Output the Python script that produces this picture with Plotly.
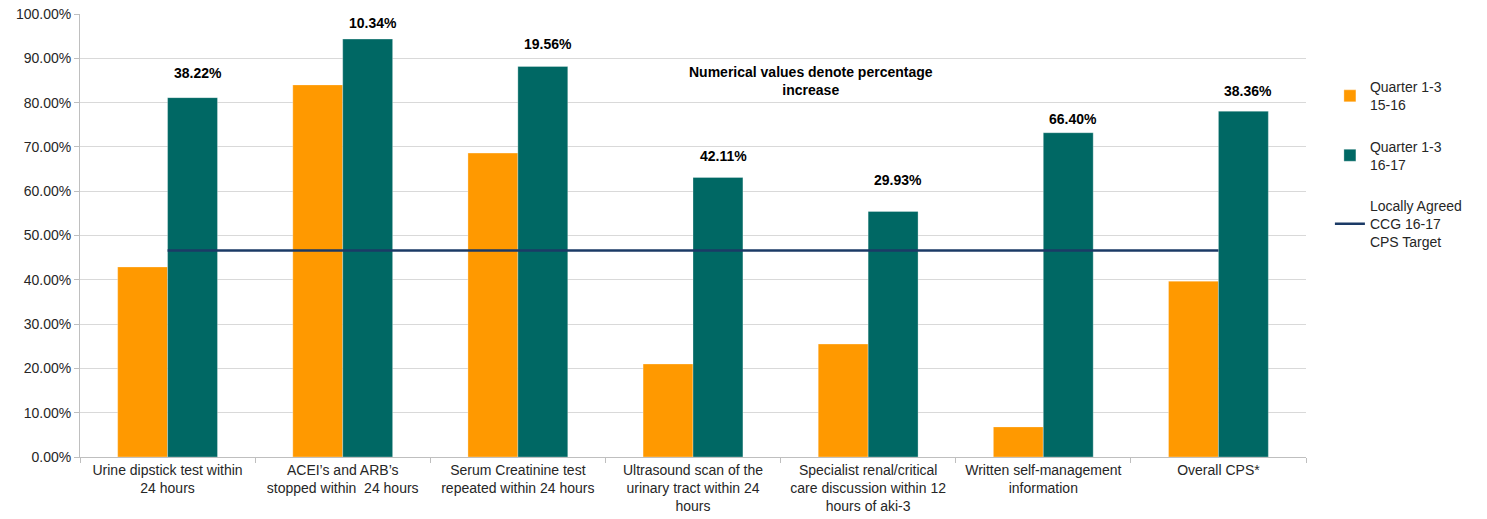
import plotly.graph_objects as go

categories = [
    "Urine dipstick test within<br>24 hours",
    "ACEI\u2019s and ARB\u2019s<br>stopped within  24 hours",
    "Serum Creatinine test<br>repeated within 24 hours",
    "Ultrasound scan of the<br>urinary tract within 24<br>hours",
    "Specialist renal/critical<br>care discussion within 12<br>hours of aki-3",
    "Written self-management<br>information",
    "Overall CPS*",
]
q_1516 = [0.429, 0.840, 0.686, 0.210, 0.255, 0.068, 0.397]
q_1617 = [0.8112, 0.9434, 0.8816, 0.6311, 0.5543, 0.7320, 0.7806]
target = [0.466] * 7
increase_labels = ["38.22%", "10.34%", "19.56%", "42.11%", "29.93%", "66.40%", "38.36%"]
series_names = ["Quarter 1-3<br>15-16", "Quarter 1-3<br>16-17", "Locally Agreed<br>CCG 16-17<br>CPS Target"]
note_text = "Numerical values denote percentage<br>increase"

# label placement (style): pixel offsets above the 16-17 bar tops
label_yshift = [25, 16, 22, 21, 31, 14, 20]

ORANGE = "#FF9900"
TEAL = "#006864"
NAVY = "#1B3A66"
FONT = "Liberation Sans, Arial, sans-serif"

fig = go.Figure()
fig.add_trace(go.Bar(x=categories, y=q_1516, name=series_names[0], marker_color=ORANGE,
                     marker_line=dict(color="rgba(255,255,255,0.6)", width=0.5),
                     legendgroup="a"))
fig.add_trace(go.Bar(x=categories, y=q_1617, name=series_names[1], marker_color=TEAL,
                     marker_line=dict(color="rgba(255,255,255,0.6)", width=0.5),
                     legendgroup="b"))
fig.add_trace(go.Scatter(x=categories, y=target, name=series_names[2], mode="lines",
                         line=dict(color=NAVY, width=2.5), legendgroup="c"))

for cat, val, lab, ys in zip(categories, q_1617, increase_labels, label_yshift):
    fig.add_annotation(x=cat, y=val, text="<b>" + lab + "</b>", showarrow=False,
                       xref="x", yref="y", xshift=30, yshift=ys,
                       font=dict(family=FONT, size=14, color="#000000"))

fig.add_annotation(x=0.596, y=0.892, xref="paper", yref="paper", text="<b>" + note_text + "</b>",
                   showarrow=False, font=dict(family=FONT, size=14, color="#000000"),
                   align="center")

fig.update_layout(
    width=1487, height=519, autosize=False,
    margin=dict(l=80, r=181, t=14, b=62),
    paper_bgcolor="white", plot_bgcolor="white",
    barmode="group", bargap=0.43, bargroupgap=0,
    font=dict(family=FONT, size=14, color="#404040"),
    legend=dict(x=1.0195, y=0.871, xanchor="left", yanchor="top",
                tracegroupgap=20, font=dict(family=FONT, size=14, color="#262626"),
                bgcolor="rgba(0,0,0,0)"),
    showlegend=True,
)
fig.update_xaxes(type="category", tickson="boundaries", ticks="outside", ticklen=5,
                 tickcolor="#BFBFBF", showline=True, linecolor="#BFBFBF", linewidth=1,
                 showgrid=False, automargin=False, ticklabeloverflow="allow",
                 tickfont=dict(family=FONT, size=14, color="#262626"))
fig.update_yaxes(range=[0, 1], dtick=0.1, tickformat=".2%", ticks="outside", ticklen=5,
                 tickcolor="#BFBFBF", showline=True, linecolor="#BFBFBF", linewidth=1,
                 showgrid=True, gridcolor="#D9D9D9", gridwidth=1, zeroline=False,
                 automargin=False, ticklabeloverflow="allow",
                 tickfont=dict(family=FONT, size=14, color="#262626"))

fig.write_html("out.html", config={"displayModeBar": False},
               post_script="document.body.style.margin='0';document.body.style.overflow='hidden';")
